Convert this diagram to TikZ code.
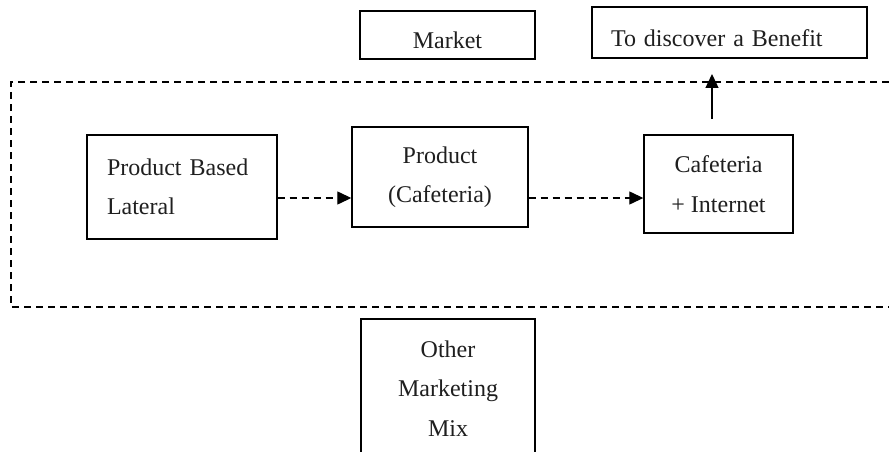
\documentclass[tikz,border=0pt]{standalone}
\usepackage{fontspec}
\setmainfont{Liberation Serif}
\usetikzlibrary{arrows.meta,calc}
\tikzset{
  boxnode/.style={draw=black,line width=1.4pt,rectangle,inner sep=0pt,
    font=\fontsize{24}{39.5}\selectfont,text=black!88},
  framedash/.style={line width=1.3pt,dash pattern=on 7pt off 5pt},
  flowarrow/.style={line width=1.3pt,dash pattern=on 7pt off 5pt,-{Triangle[length=14pt,width=13pt]}},
  uparrow/.style={line width=1.4pt,-{Triangle[length=14pt,width=13pt]}},
}
\begin{document}
\begin{tikzpicture}[x=1pt,y=-1pt]
\useasboundingbox (0,0) rectangle (889,452);
\clip (0,0) rectangle (889,452);
\fill[white] (0,0) rectangle (889,452);
% dashed frame, open at the right
\coordinate (ftr) at (889,82);
\coordinate (ftl) at (11,82);
\coordinate (fbl) at (11,307);
\coordinate (fbr) at (889,307);
\draw[framedash] (ftr) -- (ftl) -- (fbl) -- (fbr);
% boxes
\node[boxnode,minimum width=175pt,minimum height=48pt] (market) at (447.5,35) {\raisebox{-5pt}[\height][\depth]{Market}};
\node[boxnode,minimum width=275pt,minimum height=51pt,text width=237pt,inner xsep=19pt,align=left] (benefit) at (729.5,32.5) {\raisebox{-5.5pt}[\height][\depth]{To discover a Benefit}};
\node[boxnode,minimum width=190pt,minimum height=104pt,text width=190pt,inner xsep=0pt,align=left] (lateral) at (182,187) {\hspace*{20pt}Product Based\\\hspace*{20pt}Lateral};
\node[boxnode,minimum width=176pt,minimum height=100pt,align=center] (product) at (440,177) {Product\\(Cafeteria)};
\node[boxnode,minimum width=149pt,minimum height=98pt,align=center] (cafe) at (718.5,184) {Cafeteria\\+ Internet};
\node[boxnode,minimum width=174pt,minimum height=151pt,align=center] (other) at (448,394.5) {\raisebox{6pt}[\height][\depth]{\parbox{170pt}{\centering Other\\Marketing\\Mix}}};
% connectors
\draw[flowarrow] (lateral.east |- 0,198) -- (product.west |- 0,198);
\draw[flowarrow] (product.east |- 0,198) -- (cafe.west |- 0,198);
\coordinate (upstart) at (712,119);
\coordinate (uptip) at (712,74);
\draw[uparrow] (upstart) -- (uptip);
\end{tikzpicture}
\end{document}
